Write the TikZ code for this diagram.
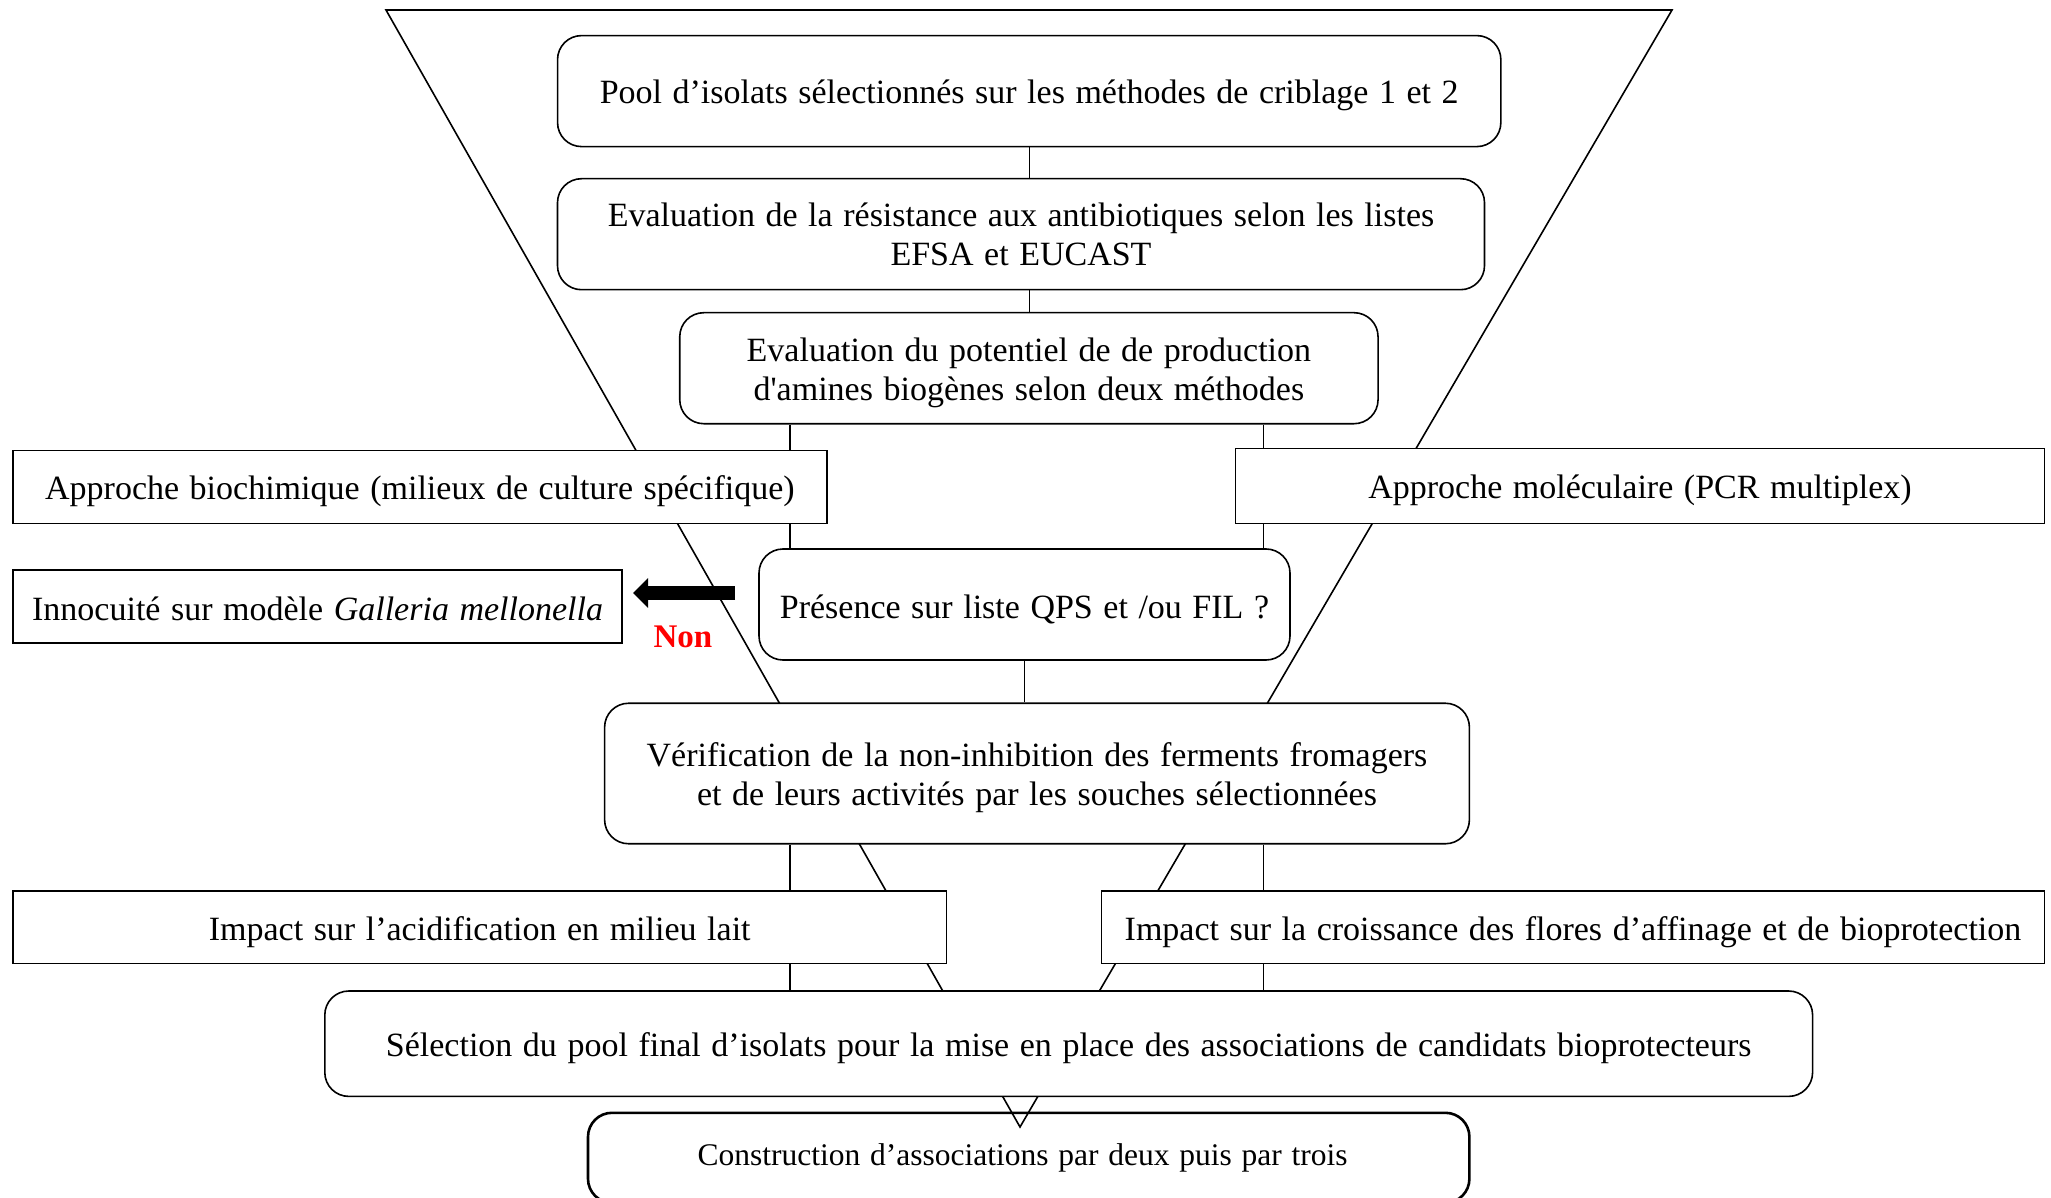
\documentclass[tikz,border=0pt]{standalone}
\usepackage{fontspec}
\setmainfont{Liberation Serif}
\usetikzlibrary{arrows.meta}
\newcommand\mystrut{\rule{0pt}{33pt}}
\newcommand\widespaces{\spaceskip=0.31em plus 0.1em minus 0.05em\relax}
\begin{document}
\begin{tikzpicture}[x=1pt,y=-1pt,
  box/.style={draw, line width=1.6pt, fill=white, inner sep=0pt, align=center, font=\fontsize{34}{39}\selectfont, execute at begin node=\widespaces},
  rbox/.style={box, rounded corners=24pt},
  link/.style={line width=1.4pt},
  funnel/.style={line width=1.6pt, line join=miter}]
\clip (0,0) rectangle (2051,1198);
\fill[white] (0,0) rectangle (2051,1198);
% funnel
\coordinate (fTL) at (386,10);
\coordinate (fTR) at (1672,10);
\coordinate (fTip) at (1020,1127);
\draw[funnel] (fTL) -- (fTR) -- (fTip) -- cycle;
% x positions of side connectors
\coordinate (xl) at (790,0);
\coordinate (xr) at (1263.6,0);
% boxes
\node[rbox, minimum width=943.3pt, minimum height=111pt] (pool) at (1029.2,91.1) {\mystrut Pool d’isolats sélectionnés sur les méthodes de criblage 1 et 2};
\node[rbox, minimum width=927pt, minimum height=111pt] (evalr) at (1021,234.2) {Evaluation de la résistance aux antibiotiques selon les listes\\EFSA et EUCAST};
\node[rbox, minimum width=698.3pt, minimum height=111pt] (evalp) at (1028.9,368.2) {\mystrut Evaluation du potentiel de de production\\d\textquotesingle amines biogènes selon deux méthodes};
\node[rbox, minimum width=531pt, minimum height=111pt] (pres) at (1024.5,604.5) {\mystrut Présence sur liste QPS et /ou FIL ?};
\node[rbox, minimum width=864.8pt, minimum height=140.5pt] (verif) at (1037,773.5) {\mystrut Vérification de la non-inhibition des ferments fromagers\\et de leurs activités par les souches sélectionnées};
\node[rbox, minimum width=1487.8pt, minimum height=105.4pt] (sel) at (1068.7,1043.7) {\mystrut Sélection du pool final d’isolats pour la mise en place des associations de candidats bioprotecteurs};
% connectors (behind side boxes)
\draw[link] (pool.south -| evalr.north) ++(8.6,0) coordinate (c1a) -- (c1a |- evalr.north);
\draw[link] (evalr.south -| evalp.north) ++(0.7,0) coordinate (c2a) -- (c2a |- evalp.north);
\draw[link] (evalp.south -| xl) -- (pres.north -| xl);
\draw[link] (evalp.south -| xr) -- (pres.north -| xr);
\draw[link] (pres.south) -- (pres.south |- verif.north);
\draw[link] (verif.south -| xl) -- (sel.north -| xl);
\draw[link] (verif.south -| xr) -- (sel.north -| xr);
% side boxes
\node[box, minimum width=813.8pt, minimum height=73.1pt] (bio) at (419.9,487) {\mystrut Approche biochimique (milieux de culture spécifique)};
\node[box, minimum width=809pt, minimum height=75pt] (mol) at (1640,486) {\mystrut Approche moléculaire (PCR multiplex)};
\node[box, minimum width=609.3pt, minimum height=72.8pt] (innoc) at (317.6,606.4) {\rule{0pt}{29pt}Innocuité sur modèle \textit{Galleria mellonella}};
\node[box, minimum width=933.4pt, minimum height=72.8pt] (acid) at (479.7,927.2) {\mystrut Impact sur l’acidification en milieu lait};
\node[box, minimum width=943pt, minimum height=72.6pt] (crois) at (1573,927.3) {\mystrut Impact sur la croissance des flores d’affinage et de bioprotection};
% final box (not filled: funnel tip shows through)
\node[draw, line width=2.6pt, rounded corners=24pt, inner sep=0pt, align=center, font=\fontsize{31.5}{36}\selectfont, execute at begin node=\widespaces, minimum width=881.4pt, minimum height=90pt] (constr) at (1028.7,1157.8) {Construction d’associations par deux puis par trois\hspace*{12pt}};
% Non arrow
\coordinate (arrS) at (735,593);
\coordinate (arrE) at (633,593);
\draw[line width=14pt, -{Triangle[width=29pt, length=15pt]}] (arrS) -- (arrE);
\node[text=red, font=\fontsize{33}{36}\selectfont\bfseries, inner sep=0pt] (non) at (683,637) {Non};
\end{tikzpicture}
\end{document}
